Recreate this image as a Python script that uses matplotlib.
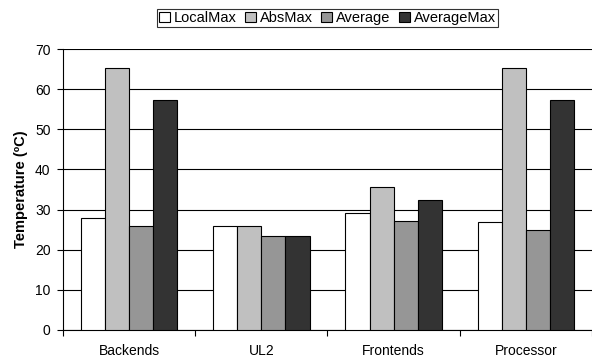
import numpy as np
import matplotlib
matplotlib.use("Agg")
import matplotlib.pyplot as plt

plt.rcParams['font.family'] = ['Liberation Sans', 'DejaVu Sans']

categories = ["Backends", "UL2", "Frontends", "Processor"]
series = ["LocalMax", "AbsMax", "Average", "AverageMax"]
local_max = [27.8, 26.0, 29.2, 27.0]
abs_max = [65.2, 26.0, 35.6, 65.2]
average = [26.0, 23.4, 27.1, 24.9]
average_max = [57.2, 23.4, 32.5, 57.2]
colors = ["#ffffff", "#c0c0c0", "#969696", "#333333"]

fig = plt.figure(figsize=(5.92, 3.61), dpi=100)
ax = fig.add_axes([0.1064, 0.0859, 0.8936, 0.778])

x = np.arange(len(categories))
w = 0.182
for i, (vals, name, c) in enumerate(zip([local_max, abs_max, average, average_max], series, colors)):
    ax.bar(x + (i - 1.5) * w, vals, width=w, color=c, edgecolor="black",
           linewidth=0.8, label=name, zorder=3)

ax.set_xlim(-0.5, len(categories) - 0.5)
ax.set_ylim(0, 70)
ax.set_yticks(range(0, 71, 10))
ax.yaxis.grid(True, color="#000000", linewidth=0.8, zorder=0)
ax.set_xticks(x)
ax.set_xticklabels(categories, fontsize=10)
ax.set_xticks(np.arange(-0.5, len(categories), 1), minor=True)
ax.tick_params(axis='x', which='major', length=0, pad=10)
ax.tick_params(axis='x', which='minor', length=4, width=0.8, direction='out')
ax.tick_params(axis='y', labelsize=10, length=4, width=0.8, direction='out', pad=5)
for s in ["top", "right"]:
    ax.spines[s].set_visible(False)
for s in ["left", "bottom"]:
    ax.spines[s].set_linewidth(0.8)
ax.set_ylabel("Temperature (ºC)", fontsize=10.5, fontweight='bold', labelpad=5)

leg = fig.legend(loc="upper center", bbox_to_anchor=(0.553, 0.975), ncol=4,
                 fontsize=10.5, frameon=True, fancybox=False, edgecolor="black",
                 handlelength=0.75, handleheight=0.75, handletextpad=0.25,
                 columnspacing=0.6, borderpad=0.15, borderaxespad=0)
leg.get_frame().set_linewidth(0.8)

fig.savefig("out.png", dpi=100)
